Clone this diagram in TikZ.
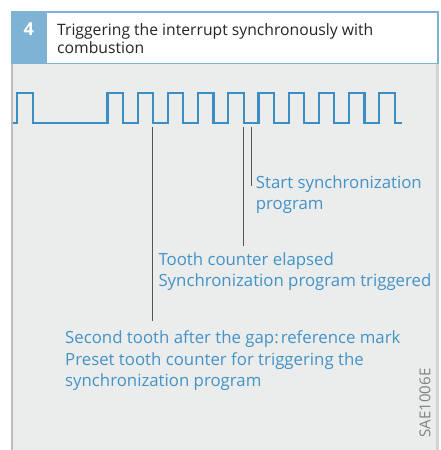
\documentclass[tikz,border=0pt]{standalone}
\usepackage{fontspec}
\setmainfont{Open Sans}
\definecolor{hdrblue}{HTML}{7FB3D6}
\definecolor{wavec}{HTML}{3B8DC5}
\definecolor{txtblue}{HTML}{4393C8}
\definecolor{panel}{HTML}{EBECEC}
\definecolor{markc}{HTML}{555555}
\definecolor{edgel}{HTML}{BDBDBD}
\definecolor{edger}{HTML}{D3D3D3}
\begin{document}
\begin{tikzpicture}[x=1pt,y=-1pt,
  lbl/.style={text=txtblue, font=\fontsize{16.8}{21.7}\selectfont, align=left, inner sep=0pt, anchor=base west},
  ttl/.style={text=black!85, font=\fontsize{15.7}{18.3}\selectfont, align=left, inner sep=0pt, anchor=base west},
  markline/.style={draw=markc, line width=1.3pt},
  wavestyle/.style={draw=wavec, line width=2.2pt, line join=miter}]
\useasboundingbox (0,0) rectangle (440,450);
\fill[white] (0,0) rectangle (440,450);
% panel
\fill[panel] (11,64) rectangle (439,450);
\fill[edger] (436,64) rectangle (439,450);
\fill[edgel] (11,64) rectangle (12.8,450);
% header
\fill[hdrblue] (11,11) rectangle (438.5,64);
\fill[white] (46.5,12.5) rectangle (436.8,62.5);
\node[text=white, font=\bfseries\fontsize{18}{18}\selectfont, inner sep=0pt] (num) at (28.7,29.3) {4};
\node[ttl] (title) at (57,53.3) {Triggering the interrupt synchronously with\\combustion};
% waveform
\draw[wavestyle] (13.3,122.7) -| (16.7,92.7) -| (32.7,122.7)
  foreach \k in {0,...,9}{ -| ({107.4+30.2*\k},92.7) -| ({122.8+30.2*\k},122.7) }
  -- (401.7,122.7);
% marker coordinates
\coordinate (m1) at (152.8,127);
\coordinate (m1e) at (152.8,321);
\coordinate (m2) at (243.4,127);
\coordinate (m2e) at (243.4,246);
\coordinate (m3) at (251.2,127);
\coordinate (m3e) at (251.2,186);
% labels
\node[lbl] (start) at (255.7,209.7) {Start synchronization\\program};
\node[lbl] (tooth) at (158.3,286.7) {Tooth counter elapsed\\Synchronization program triggered};
\node[lbl] (second) at (65,386.7) {Second tooth after the gap:\hspace{0.12em}reference mark\\Preset tooth counter for triggering the\\synchronization program};
\draw[markline] (m1) -- (m1e);
\draw[markline] (m2) -- (m2e);
\draw[markline] (m3) -- (m3e);
\node[rotate=90, text=black!50, font=\fontsize{15}{15}\selectfont, inner sep=0pt] (sae) at (425,403) {SAE1006E};
\end{tikzpicture}
\end{document}
